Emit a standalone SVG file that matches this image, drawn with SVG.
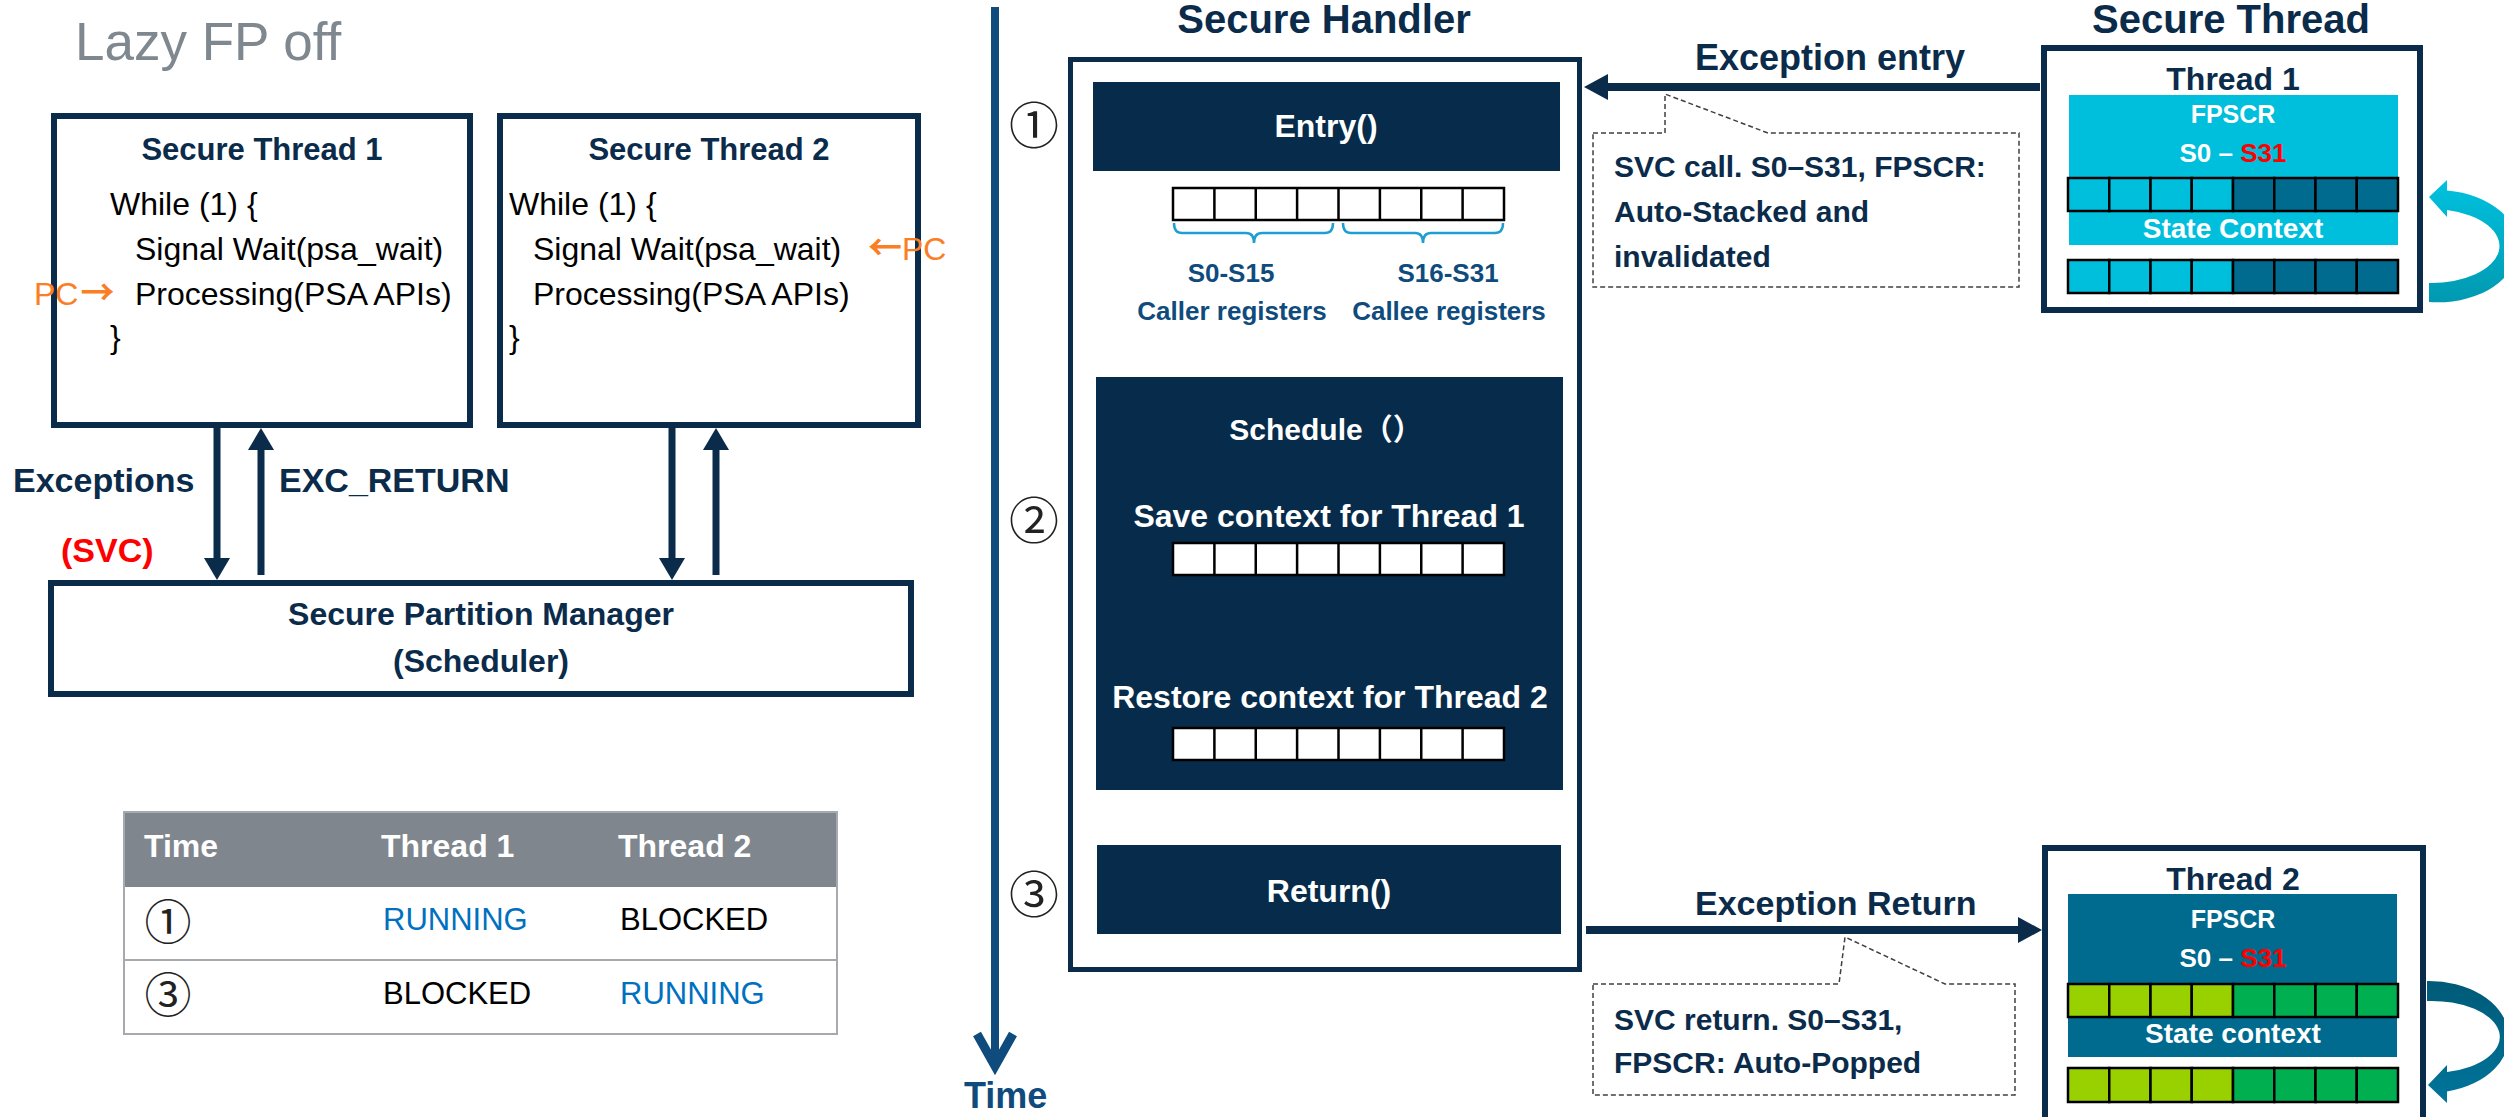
<svg xmlns="http://www.w3.org/2000/svg" width="2504" height="1117" viewBox="0 0 2504 1117">
<style>
text{font-family:"Liberation Sans",Arial,"Noto Sans CJK JP",sans-serif}
.b{font-weight:bold}
.navy{fill:#0b2b4b}
.steel{fill:#0f4c7d}
.w{fill:#ffffff}
.c{text-anchor:middle}
.box{fill:#ffffff;stroke:#0b2b4b;stroke-width:6}
.blk{fill:#072b4a}
.reg{fill:#ffffff;stroke:#000000;stroke-width:2.5}
.regl{stroke:#000000;stroke-width:2.5}
.cy{fill:#00bfdd;stroke:#000000;stroke-width:2.5}
.tl{fill:#006b8e;stroke:#000000;stroke-width:2.5}
.lg{fill:#99d100;stroke:#000000;stroke-width:2.5}
.gr{fill:#00b050;stroke:#000000;stroke-width:2.5}
.brace{fill:none;stroke:#1f9fd1;stroke-width:2.5}
.callout{fill:#ffffff;stroke:#404040;stroke-width:1.5;stroke-dasharray:5 3}
.circ{font-family:"Noto Sans CJK JP","DejaVu Sans",sans-serif;fill:#222222;dominant-baseline:central;text-anchor:middle}
.code{font-size:32px;fill:#000000}
.pc{font-size:32px;fill:#fb7d24}
.ar{font-family:"Noto Sans CJK JP","DejaVu Sans",sans-serif;font-size:34px;font-weight:bold}
.cell{font-size:31px}
.arr{stroke:#0b2b4b;stroke-width:7;fill:none}
.head{fill:#0b2b4b}
</style>
<defs>
<linearGradient id="g1" x1="0" y1="0" x2="0" y2="1">
<stop offset="0" stop-color="#00c2df"/>
<stop offset="1" stop-color="#0099b0"/>
</linearGradient>
<linearGradient id="g2" x1="0" y1="0" x2="0" y2="1">
<stop offset="0" stop-color="#005a77"/>
<stop offset="1" stop-color="#00759b"/>
</linearGradient>
</defs>

<rect width="2504" height="1117" fill="#ffffff"/>

<text x="75" y="60" font-size="53" fill="#7f878f">Lazy FP off</text>

<g id="thread1-box">
<rect class="box" x="54" y="116" width="416" height="309"/>
<text class="b navy c" x="262" y="160" font-size="31">Secure Thread 1</text>
<text class="code" x="110" y="215">While (1) {</text>
<text class="code" x="135" y="260">Signal Wait(psa_wait)</text>
<text class="code" x="135" y="305">Processing(PSA APIs)</text>
<text class="code" x="110" y="348">}</text>
<text class="pc" x="34" y="305">PC<tspan class="ar" dx="2">→</tspan></text>
</g>

<g id="thread2-box">
<rect class="box" x="500" y="116" width="418" height="309"/>
<text class="b navy c" x="709" y="160" font-size="31">Secure Thread 2</text>
<text class="code" x="509" y="215">While (1) {</text>
<text class="code" x="533" y="260">Signal Wait(psa_wait)</text>
<text class="code" x="533" y="305">Processing(PSA APIs)</text>
<text class="code" x="509" y="348">}</text>
<text class="pc" x="868" y="260"><tspan class="ar">←</tspan>PC</text>
</g>

<g id="spm">
<rect class="box" x="51" y="583" width="860" height="111"/>
<text class="b navy c" x="481" y="625" font-size="32">Secure Partition Manager</text>
<text class="b navy c" x="481" y="672" font-size="32">(Scheduler)</text>
</g>

<g id="connectors">
<line class="arr" x1="217" y1="428" x2="217" y2="562"/>
<polygon class="head" points="204,558 230,558 217,580"/>
<line class="arr" x1="261" y1="446" x2="261" y2="575"/>
<polygon class="head" points="248,450 274,450 261,428"/>
<line class="arr" x1="672" y1="428" x2="672" y2="562"/>
<polygon class="head" points="659,558 685,558 672,580"/>
<line class="arr" x1="716" y1="446" x2="716" y2="575"/>
<polygon class="head" points="703,450 729,450 716,428"/>
<text class="b navy" x="13" y="492" font-size="34">Exceptions</text>
<text class="b navy" x="279" y="492" font-size="34">EXC_RETURN</text>
<text class="b" x="61" y="562" font-size="34" fill="#ff0000">(SVC)</text>

<line x1="2040" y1="87" x2="1604" y2="87" stroke="#0b2b4b" stroke-width="8"/>
<polygon class="head" points="1584,87 1608,74 1608,100"/>
<text class="b navy" x="1695" y="70" font-size="36">Exception entry</text>

<line x1="1586" y1="930" x2="2022" y2="930" stroke="#0b2b4b" stroke-width="8"/>
<polygon class="head" points="2042,930 2018,917 2018,943"/>
<text class="b navy" x="1695" y="915" font-size="34">Exception Return</text>

<line x1="995" y1="7" x2="995" y2="1062" stroke="#0f4c7d" stroke-width="8"/>
<polyline points="977,1034 995,1066 1013,1034" fill="none" stroke="#0f4c7d" stroke-width="9"/>
<text class="b steel" x="964" y="1108" font-size="36">Time</text>

<path d="M2429,302 A80,56 0 0 0 2447,190.5 L2447,180 L2429,197 L2447,217 L2447,210 A68,37 0 0 1 2429,283 Z" fill="url(#g1)"/>
<path d="M2427,981 A80,56 0 0 1 2447,1091.5 L2447,1103 L2428,1085 L2447,1065 L2447,1072 A68,36 0 0 0 2427,1001 Z" fill="url(#g2)"/>
</g>

<g id="state-table">
<rect x="124" y="812" width="713" height="75" fill="#7f868e"/>
<rect x="124" y="812" width="713" height="222" fill="none" stroke="#a6aaae" stroke-width="2"/>
<line x1="124" y1="960" x2="837" y2="960" stroke="#a6aaae" stroke-width="2"/>
<text class="b w" x="144" y="857" font-size="32">Time</text>
<text class="b w" x="381" y="857" font-size="32">Thread 1</text>
<text class="b w" x="618" y="857" font-size="32">Thread 2</text>
<text class="circ" x="168" y="918" font-size="47">①</text>
<text class="cell" x="383" y="930" fill="#0070c0">RUNNING</text>
<text class="cell" x="620" y="930" fill="#000000">BLOCKED</text>
<text class="circ" x="168" y="991" font-size="47">③</text>
<text class="cell" x="383" y="1004" fill="#000000">BLOCKED</text>
<text class="cell" x="620" y="1004" fill="#0070c0">RUNNING</text>
</g>

<g id="secure-handler">
<text class="b navy c" x="1324" y="33" font-size="40">Secure Handler</text>
<rect x="1070.5" y="59.5" width="509" height="910" fill="#ffffff" stroke="#0b2b4b" stroke-width="5"/>
<text class="circ" x="1034" y="122" font-size="50">①</text>
<text class="circ" x="1034" y="517" font-size="50">②</text>
<text class="circ" x="1034" y="891" font-size="50">③</text>
</g>

<g id="entry">
<rect class="blk" x="1093" y="82" width="467" height="89"/>
<text class="b w c" x="1326" y="137" font-size="32">Entry()</text>
<rect class="reg" x="1173" y="188" width="331" height="32"/>
<path class="regl" d="M1214.4,188V220M1255.75,188V220M1297.1,188V220M1338.5,188V220M1379.9,188V220M1421.25,188V220M1462.6,188V220"/>
<path class="brace" d="M1174,223 Q1174,233 1182,233 H1246 Q1254,233 1254,243 Q1254,233 1262,233 H1325 Q1333,233 1333,223"/>
<path class="brace" d="M1343,223 Q1343,233 1351,233 H1415 Q1423,233 1423,243 Q1423,233 1431,233 H1495 Q1503,233 1503,223"/>
<text class="b steel c" x="1231" y="282" font-size="26">S0-S15</text>
<text class="b steel c" x="1448" y="282" font-size="26">S16-S31</text>
<text class="b steel c" x="1232" y="320" font-size="26">Caller registers</text>
<text class="b steel c" x="1449" y="320" font-size="26">Callee registers</text>
</g>

<g id="schedule">
<rect class="blk" x="1096" y="377" width="467" height="413"/>
<text class="b w c" x="1326" y="440" font-size="30">Schedule（）</text>
<text class="b w c" x="1329" y="527" font-size="32">Save context for Thread 1</text>
<rect class="reg" x="1173" y="543" width="331" height="32"/>
<path class="regl" d="M1214.4,543V575M1255.75,543V575M1297.1,543V575M1338.5,543V575M1379.9,543V575M1421.25,543V575M1462.6,543V575"/>
<text class="b w c" x="1330" y="708" font-size="32">Restore context for Thread 2</text>
<rect class="reg" x="1173" y="728" width="331" height="32"/>
<path class="regl" d="M1214.4,728V760M1255.75,728V760M1297.1,728V760M1338.5,728V760M1379.9,728V760M1421.25,728V760M1462.6,728V760"/>
</g>

<g id="return">
<rect class="blk" x="1097" y="845" width="464" height="89"/>
<text class="b w c" x="1329" y="902" font-size="32">Return()</text>
</g>

<g id="callout-entry">
<path class="callout" d="M1593,133 H1665 V94 L1768,133 H2019 V287 H1593 Z"/>
<text class="b navy" x="1614" y="177" font-size="30">SVC call. S0–S31, FPSCR:</text>
<text class="b navy" x="1614" y="222" font-size="30">Auto-Stacked and</text>
<text class="b navy" x="1614" y="267" font-size="30">invalidated</text>
</g>

<g id="callout-return">
<path class="callout" d="M1593,984 H1839 L1845,937 L1945,984 H2015 V1095 H1593 Z"/>
<text class="b navy" x="1614" y="1030" font-size="30">SVC return. S0–S31,</text>
<text class="b navy" x="1614" y="1073" font-size="30">FPSCR: Auto-Popped</text>
</g>

<g id="secure-thread-1">
<text class="b navy c" x="2231" y="33" font-size="40">Secure Thread</text>
<rect class="box" x="2044" y="48" width="376" height="262"/>
<text class="b navy c" x="2233" y="90" font-size="32">Thread 1</text>
<rect x="2069" y="95" width="329" height="150" fill="#00bfdd"/>
<text class="b w c" x="2233" y="123" font-size="25">FPSCR</text>
<text class="b w c" x="2233" y="162" font-size="26">S0 – <tspan fill="#ff0000">S31</tspan></text>
<rect class="cy" x="2068" y="178" width="41.25" height="33"/>
<rect class="cy" x="2109.25" y="178" width="41.25" height="33"/>
<rect class="cy" x="2150.5" y="178" width="41.25" height="33"/>
<rect class="cy" x="2191.75" y="178" width="41.25" height="33"/>
<rect class="tl" x="2233" y="178" width="41.25" height="33"/>
<rect class="tl" x="2274.25" y="178" width="41.25" height="33"/>
<rect class="tl" x="2315.5" y="178" width="41.25" height="33"/>
<rect class="tl" x="2356.75" y="178" width="41.25" height="33"/>
<text class="b w c" x="2233" y="238" font-size="28">State Context</text>
<rect class="cy" x="2068" y="260" width="41.25" height="33"/>
<rect class="cy" x="2109.25" y="260" width="41.25" height="33"/>
<rect class="cy" x="2150.5" y="260" width="41.25" height="33"/>
<rect class="cy" x="2191.75" y="260" width="41.25" height="33"/>
<rect class="tl" x="2233" y="260" width="41.25" height="33"/>
<rect class="tl" x="2274.25" y="260" width="41.25" height="33"/>
<rect class="tl" x="2315.5" y="260" width="41.25" height="33"/>
<rect class="tl" x="2356.75" y="260" width="41.25" height="33"/>
</g>

<g id="secure-thread-2">
<rect class="box" x="2045" y="848" width="378" height="300"/>
<text class="b navy c" x="2233" y="890" font-size="32">Thread 2</text>
<rect x="2068" y="894" width="329" height="163" fill="#006b8e"/>
<text class="b w c" x="2233" y="928" font-size="25">FPSCR</text>
<text class="b w c" x="2233" y="967" font-size="26">S0 – <tspan fill="#ff0000">S31</tspan></text>
<rect class="lg" x="2068" y="984" width="41.25" height="33"/>
<rect class="lg" x="2109.25" y="984" width="41.25" height="33"/>
<rect class="lg" x="2150.5" y="984" width="41.25" height="33"/>
<rect class="lg" x="2191.75" y="984" width="41.25" height="33"/>
<rect class="gr" x="2233" y="984" width="41.25" height="33"/>
<rect class="gr" x="2274.25" y="984" width="41.25" height="33"/>
<rect class="gr" x="2315.5" y="984" width="41.25" height="33"/>
<rect class="gr" x="2356.75" y="984" width="41.25" height="33"/>
<text class="b w c" x="2233" y="1043" font-size="28">State context</text>
<rect class="lg" x="2068" y="1068" width="41.25" height="34"/>
<rect class="lg" x="2109.25" y="1068" width="41.25" height="34"/>
<rect class="lg" x="2150.5" y="1068" width="41.25" height="34"/>
<rect class="lg" x="2191.75" y="1068" width="41.25" height="34"/>
<rect class="gr" x="2233" y="1068" width="41.25" height="34"/>
<rect class="gr" x="2274.25" y="1068" width="41.25" height="34"/>
<rect class="gr" x="2315.5" y="1068" width="41.25" height="34"/>
<rect class="gr" x="2356.75" y="1068" width="41.25" height="34"/>
</g>
</svg>
